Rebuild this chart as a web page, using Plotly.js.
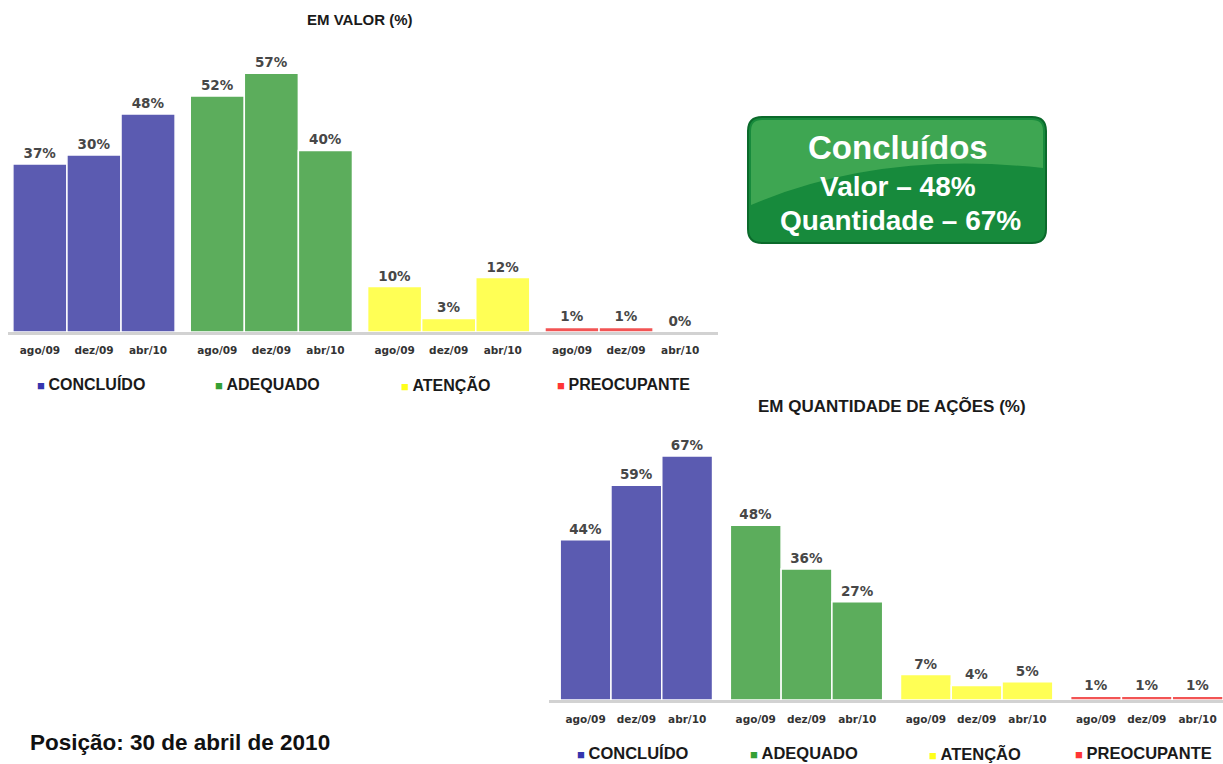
<!DOCTYPE html>
<html>
<head>
<meta charset="utf-8">
<script src="https://cdn.plot.ly/plotly-3.0.1.min.js"></script>
<style>html,body{margin:0;padding:0;background:#fff;}#chart{width:1223px;height:764px;}</style>
</head>
<body>
<div id="chart"></div>
<script>
// ---- data ----
const categories = ['ago/09', 'dez/09', 'abr/10'];
const seriesNames = ['CONCLUÍDO', 'ADEQUADO', 'ATENÇÃO', 'PREOCUPANTE'];

// EM VALOR (%)
const valorConcluido = [37, 39, 48];
const valorAdequado = [52, 57, 40];
const valorAtencao = [10, 3, 12];
const valorPreocupante = [1, 1, 0];
const valorConcluidoLabels = ['37%', '30%', '48%'];
const valorAdequadoLabels = ['52%', '57%', '40%'];
const valorAtencaoLabels = ['10%', '3%', '12%'];
const valorPreocupanteLabels = ['1%', '1%', '0%'];

// EM QUANTIDADE DE AÇÕES (%)
const qtdConcluido = [44, 59, 67];
const qtdAdequado = [48, 36, 27];
const qtdAtencao = [7, 4, 5];
const qtdPreocupante = [1, 1, 1];
const qtdConcluidoLabels = ['44%', '59%', '67%'];
const qtdAdequadoLabels = ['48%', '36%', '27%'];
const qtdAtencaoLabels = ['7%', '4%', '5%'];
const qtdPreocupanteLabels = ['1%', '1%', '1%'];

const summaryTitle = 'Concluídos';
const summaryValor = 'Valor – 48%';
const summaryQtd = 'Quantidade – 67%';
const positionText = 'Posição: 30 de abril de 2010';

// ---- style ----
const barColors = ['#5B5BB1', '#5CAD5C', '#FFFF55', '#F25454'];
const legendColors = ['#3535AE', '#35A035', '#FFFF1A', '#FF3535'];
const W = 1223, H = 764;
const X = p => p / W;
const Y = p => 1 - p / H;

const valorSeries = [valorConcluido, valorAdequado, valorAtencao, valorPreocupante];
const valorLabels = [valorConcluidoLabels, valorAdequadoLabels, valorAtencaoLabels, valorPreocupanteLabels];
const qtdSeries = [qtdConcluido, qtdAdequado, qtdAtencao, qtdPreocupante];
const qtdLabels = [qtdConcluidoLabels, qtdAdequadoLabels, qtdAtencaoLabels, qtdPreocupanteLabels];

const charts = [
  {series: valorSeries, labels: valorLabels, xa: 'x', ya: 'y', pitch: 3.28},
  {series: qtdSeries, labels: qtdLabels, xa: 'x2', ya: 'y2', pitch: 3.35}
];

const traces = [];
const tickvals = [[], []];
const ticktext = [[], []];
charts.forEach((ch, ci) => {
  ch.series.forEach((vals, si) => {
    const xs = categories.map((_, m) => si * ch.pitch + m);
    xs.forEach((v, m) => { tickvals[ci].push(v); ticktext[ci].push(categories[m]); });
    traces.push({
      type: 'bar',
      name: seriesNames[si],
      x: xs,
      y: vals,
      text: ch.labels[si],
      textposition: 'outside',
      constraintext: 'none',
      cliponaxis: false,
      width: 1,
      marker: {color: barColors[si], line: {color: '#ffffff', width: 1.5}},
      textfont: {family: 'DejaVu Sans', size: 13.5, color: '#474747', weight: 'bold'},
      xaxis: ch.xa,
      yaxis: ch.ya,
      showlegend: false,
      hovertemplate: seriesNames[si] + ' %{y}%<extra></extra>'
    });
  });
});

const tickFont = {family: 'DejaVu Sans', size: 10.5, color: '#333333', weight: 'bold'};
const axisCommon = {
  type: 'linear', showgrid: false, zeroline: false, ticks: '',
  showline: true, linecolor: '#d2d2d2', linewidth: 3,
  tickfont: tickFont, tickmode: 'array', fixedrange: true
};

const annotations = [];
function ann(text, px, py, size, opts) {
  annotations.push(Object.assign({
    text: text, x: X(px), y: Y(py), xref: 'paper', yref: 'paper',
    showarrow: false, xanchor: 'center', yanchor: 'middle',
    font: {family: 'Liberation Sans, Arial, sans-serif', size: size, color: '#1a1a1a', weight: 'bold'}
  }, opts || {}));
}
// titles
ann('EM VALOR (%)', 360, 20, 15);
ann('EM QUANTIDADE DE AÇÕES (%)', 892, 406, 17);
// legends
const legendTop = [35, 213, 399, 555];
const legendBottom = [575, 748, 927, 1073];
seriesNames.forEach((n, i) => {
  ann('<span style="font-size:13px;color:' + legendColors[i] + '">■ </span>' + n, legendTop[i], 384, 16, {xanchor: 'left'});
  ann('<span style="font-size:13px;color:' + legendColors[i] + '">■ </span>' + n, legendBottom[i], 753, 16.5, {xanchor: 'left'});
});
// summary box text
const white = {family: 'Liberation Sans, Arial, sans-serif', color: '#ffffff', weight: 'bold'};
ann(summaryTitle, 898, 147, 33, {font: Object.assign({size: 33}, white)});
ann(summaryValor, 898, 186, 28, {font: Object.assign({size: 28}, white)});
ann(summaryQtd, 900, 221, 28, {font: Object.assign({size: 28}, white)});
// position text
ann(positionText, 28, 742, 22.5, {xanchor: 'left', font: {family: 'Liberation Sans, Arial, sans-serif', size: 22.5, color: '#111111', weight: 'bold'}});

// rounded box
function roundRect(x0, y0, x1, y1, r) {
  return `M ${X(x0 + r)},${Y(y0)} L ${X(x1 - r)},${Y(y0)} Q ${X(x1)},${Y(y0)} ${X(x1)},${Y(y0 + r)} ` +
    `L ${X(x1)},${Y(y1 - r)} Q ${X(x1)},${Y(y1)} ${X(x1 - r)},${Y(y1)} L ${X(x0 + r)},${Y(y1)} ` +
    `Q ${X(x0)},${Y(y1)} ${X(x0)},${Y(y1 - r)} L ${X(x0)},${Y(y0 + r)} Q ${X(x0)},${Y(y0)} ${X(x0 + r)},${Y(y0)} Z`;
}
const bx0 = 748, by0 = 117, bx1 = 1046, by1 = 243, br = 14;
const highlight = `M ${X(bx0 + br)},${Y(by0 + 3)} L ${X(bx1 - br)},${Y(by0 + 3)} Q ${X(bx1 - 3)},${Y(by0 + 3)} ${X(bx1 - 3)},${Y(by0 + br)} ` +
  `L ${X(bx1 - 3)},${Y(168)} Q ${X(880)},${Y(150)} ${X(bx0 + 3)},${Y(205)} L ${X(bx0 + 3)},${Y(by0 + br)} Q ${X(bx0 + 3)},${Y(by0 + 3)} ${X(bx0 + br)},${Y(by0 + 3)} Z`;
const shapes = [
  {type: 'path', xref: 'paper', yref: 'paper', path: roundRect(bx0, by0, bx1, by1, br), fillcolor: '#178A3C', line: {color: '#0B6A2B', width: 2}, layer: 'below'},
  {type: 'path', xref: 'paper', yref: 'paper', path: highlight, fillcolor: 'rgba(95,190,100,0.55)', line: {width: 0}, layer: 'below'}
];

const layout = {
  width: W, height: H,
  margin: {l: 0, r: 0, t: 0, b: 0},
  paper_bgcolor: '#ffffff', plot_bgcolor: 'rgba(0,0,0,0)',
  showlegend: false,
  barmode: 'overlay',
  xaxis: Object.assign({}, axisCommon, {domain: [X(8), X(718)], range: [-0.59, 12.54], anchor: 'y', tickvals: tickvals[0], ticktext: ticktext[0], ticklabelstandoff: 6}),
  yaxis: {domain: [Y(332), Y(14.2)], range: [0, 70], visible: false, fixedrange: true, anchor: 'x'},
  xaxis2: Object.assign({}, axisCommon, {domain: [X(549), 1], range: [-0.72, 12.55], anchor: 'y2', tickvals: tickvals[1], ticktext: ticktext[1], ticklabelstandoff: 7}),
  yaxis2: {domain: [Y(700), Y(445.2)], range: [0, 70], visible: false, fixedrange: true, anchor: 'x2'},
  annotations: annotations,
  shapes: shapes
};

Plotly.newPlot('chart', traces, layout, {displayModeBar: false, staticPlot: true});
</script>
</body>
</html>
